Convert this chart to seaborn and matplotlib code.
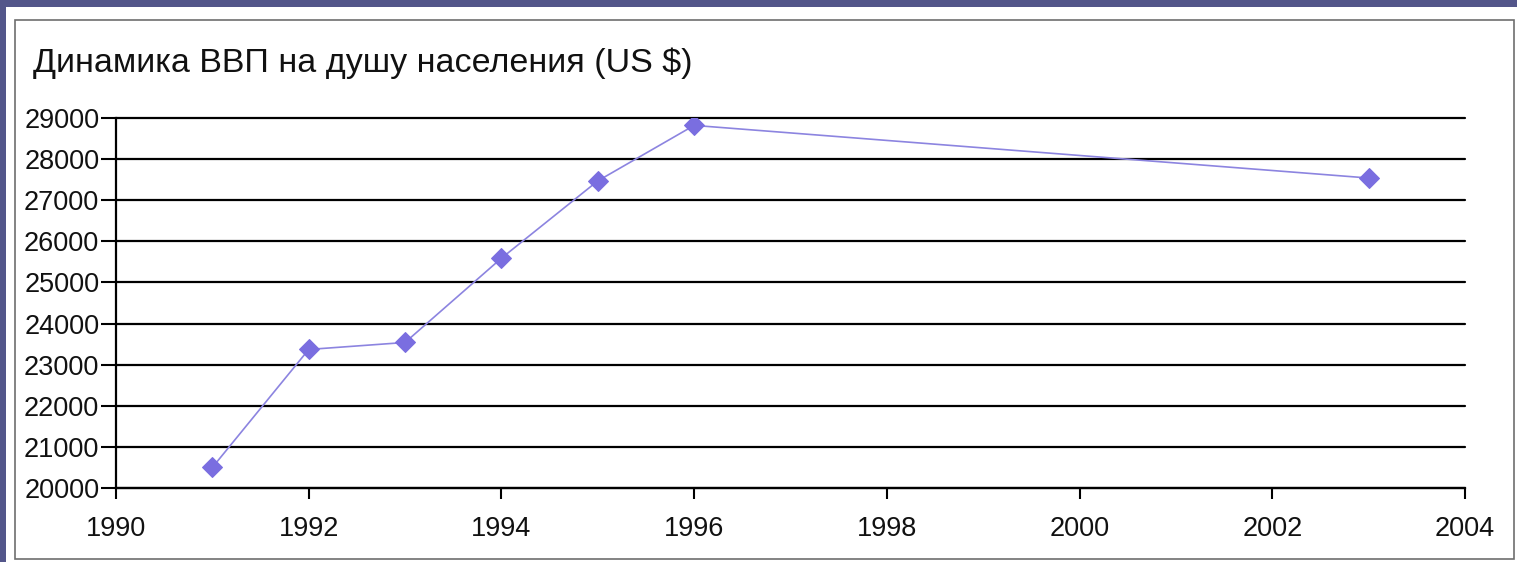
import numpy as np
import pandas as pd
import seaborn as sns
import matplotlib.pyplot as plt
from matplotlib.patches import Rectangle

# data
years = [1991, 1992, 1993, 1994, 1995, 1996, 2003]
gdp = [20500, 23370, 23540, 25590, 27470, 28820, 27540]
x_ticks = list(range(1990, 2005, 2))
y_ticks = list(range(20000, 30000, 1000))
title = "Динамика ВВП на душу населения (US $)"

df = pd.DataFrame({"year": years, "gdp": gdp})

sns.set_style("white")
plt.rcParams["font.family"] = ["Liberation Sans", "DejaVu Sans"]

W, H = 1517, 562
fig = plt.figure(figsize=(W / 100, H / 100), dpi=100)
fig.patch.set_facecolor("#53568a")

# white slide panel and chart frame
fig.add_artist(Rectangle((6 / W, 0), 1, 1 - 7 / H, transform=fig.transFigure,
                         facecolor="white", edgecolor="none", zorder=0))
fig.add_artist(Rectangle((15 / W, 1 - 559 / H), (1514 - 15) / W, (559 - 20) / H,
                         transform=fig.transFigure, facecolor="none",
                         edgecolor="#6e6e6e", linewidth=1.2, zorder=1))

ax = fig.add_axes([116 / W, 1 - 488 / H, (1465 - 116) / W, (488 - 118) / H])
ax.set_facecolor("none")

sns.lineplot(data=df, x="year", y="gdp", ax=ax, color="#8c84e0", linewidth=1.2,
             marker="D", markersize=10, markerfacecolor="#7a6ee0",
             markeredgecolor="#7a6ee0", zorder=3)

ax.set_xlim(1990, 2004)
ax.set_ylim(20000, 29000)
ax.set_xticks(x_ticks)
ax.set_yticks(y_ticks)
ax.set_xlabel("")
ax.set_ylabel("")

ax.yaxis.grid(True, color="black", linewidth=1.6)
ax.xaxis.grid(False)
for gl in ax.get_ygridlines():
    gl.set_clip_on(False)
for s in ["top", "right"]:
    ax.spines[s].set_visible(False)
for s in ["left", "bottom"]:
    ax.spines[s].set_color("black")
    ax.spines[s].set_linewidth(1.6)

ax.tick_params(axis="y", direction="out", length=11, width=1.5, color="black",
               pad=1, labelsize=19.5, labelcolor="#111111")
ax.tick_params(axis="x", direction="out", length=8, width=1.5, color="black",
               pad=12, labelsize=19.5, labelcolor="#111111")
ax.tick_params(left=True, bottom=True)

fig.text(33 / W, 1 - 72 / H, title, fontsize=24.5, color="#111111",
         ha="left", va="baseline")

fig.savefig("out.png", dpi=100, facecolor=fig.get_facecolor())
